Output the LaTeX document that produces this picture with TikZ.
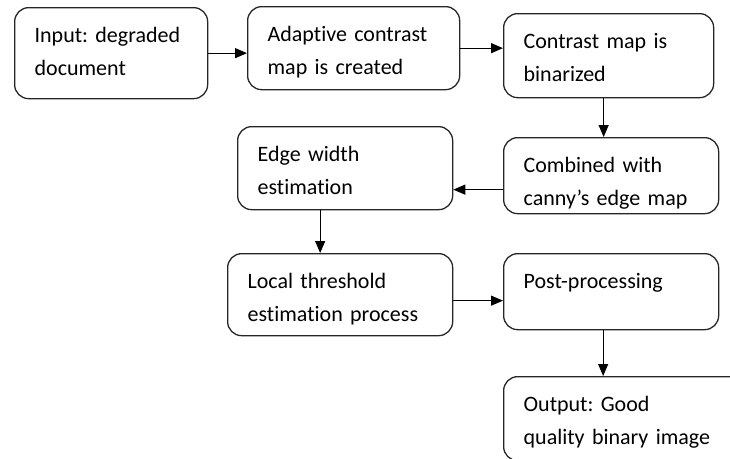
\documentclass[tikz,border=0pt]{standalone}
\usepackage{fontspec}
\setmainfont{Carlito}[Ligatures={NoCommon}]
\usepackage{tikz}
\usetikzlibrary{arrows.meta,positioning}

\tikzset{
  procbox/.style={draw=black!85, line width=1.3pt, rounded corners=14pt,
    anchor=north west, align=left, inner xsep=20pt, inner ysep=8pt,
    text height=27pt, font=\fontsize{22}{33}\selectfont\frenchspacing},
  flow/.style={line width=1.2pt, -{Triangle[length=12pt,width=10pt]}}
}

\begin{document}
\begin{tikzpicture}[x=1pt, y=-1pt]
\useasboundingbox (0,0) rectangle (730,458);

\node[procbox, text width=153pt, text depth=48pt] (inp) at (14,7) {Input: degraded\\document};
\node[procbox, text width=172pt, text depth=40pt] (adapt) at (247,6) {Adaptive contrast\\map is created};
\node[procbox, text width=170pt, text depth=41pt] (binar) at (503,13) {Contrast map is\\binarized};
\node[procbox, text width=175pt, text depth=33pt] (comb) at (503,137) {Combined with\\canny’s edge map};
\node[procbox, text width=175pt, text depth=40pt] (edgew) at (237,126) {Edge width\\estimation};
\node[procbox, text width=185pt, text depth=39pt] (local) at (227,253) {Local threshold\\estimation process};
\node[procbox, text width=175pt, text depth=33pt] (post) at (503,253) {Post-processing\\};
\node[procbox, text width=200pt, text depth=41pt] (outp) at (503,376) {Output: Good\\quality binary image};

% connectors
\draw[flow] (inp.east) -- (inp.east -| adapt.west);
\draw[flow] (adapt.east) -- (adapt.east -| binar.west);
\draw[flow] ([xshift=-5pt]binar.south) -- ([xshift=-5pt]binar.south |- comb.north);
\draw[flow] ([yshift=-14pt]comb.west) -- ([yshift=-14pt]comb.west -| edgew.east);
\draw[flow] ([xshift=-25pt]edgew.south) -- ([xshift=-25pt]edgew.south |- local.north);
\draw[flow] ([yshift=-6pt]local.east) -- ([yshift=-6pt]local.east -| post.west);
\draw[flow] ([xshift=-8pt]post.south) -- ([xshift=-8pt]post.south |- outp.north);
\end{tikzpicture}
\end{document}
